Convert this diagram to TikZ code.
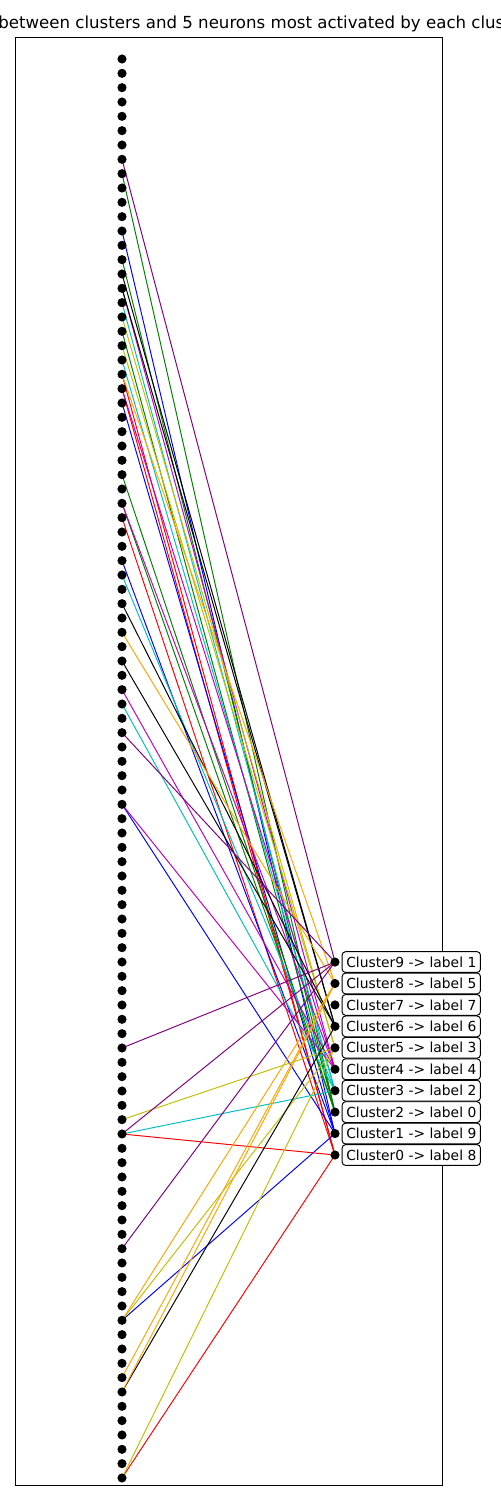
\documentclass[tikz,border=0pt]{standalone}
\usepackage{fontspec}
\setmainfont{DejaVu Sans}
\usepackage{xcolor}
\usetikzlibrary{positioning}
\definecolor{mplblue}{rgb}{0,0,1}
\definecolor{mplgreen}{rgb}{0,0.5,0}
\definecolor{mplred}{rgb}{1,0,0}
\definecolor{mplcyan}{rgb}{0,0.75,0.75}
\definecolor{mplmagenta}{rgb}{0.75,0,0.75}
\definecolor{mplolive}{rgb}{0.75,0.75,0}
\definecolor{mplorange}{rgb}{1,0.647,0}
\definecolor{mplpurple}{rgb}{0.5,0,0.5}

\begin{document}
\begin{tikzpicture}[x=0.01in, y=-0.01in,
    neuron/.style={circle, fill=black, inner sep=0pt, minimum size=6.6pt},
    link/.style={line width=0.7pt},
    tag/.style={draw, line width=0.7pt, rounded corners=2.5pt, fill=white, inner xsep=3pt, inner ysep=0pt, minimum height=15pt, font=\fontsize{10}{12}\selectfont}]
    \useasboundingbox (0,0) rectangle (500,1500);

    \node[anchor=base west, inner sep=0pt, font=\fontsize{12}{14}\selectfont] (title) at (-2,28) {between clusters and 5 neurons most activated by each clus};
    \draw[line width=0.6pt] (15,37) rectangle (442,1485);

    % neurons on the left, clusters on the right
    \foreach \i in {0,...,99} {\coordinate (n\i) at (122,59+14.333*\i);}
    \foreach \k in {0,...,9} {\coordinate (c\k) at (335,1155-21.44*\k);}

    % five most activated neurons of each cluster
    \foreach \k/\col/\list in {0/mplred/{22,23,32,75,99}, 1/mplblue/{12,24,35,52,88}, 2/mplgreen/{8,14,19,29,31},
        3/mplcyan/{17,21,36,45,75}, 4/mplmagenta/{16,23,31,44,52}, 5/mplolive/{18,20,74,88,99},
        6/black/{15,16,38,42,93}, 8/mplorange/{22,40,88,92,93}, 9/mplpurple/{7,47,69,75,83}} {
        \foreach \i in \list {\draw[link, \col] (n\i) -- (c\k);}
    }

    \foreach \i in {0,...,99} {\node[neuron] (dot\i) at (n\i) {};}
    \foreach \k/\lab in {0/8, 1/9, 2/0, 3/2, 4/4, 5/3, 6/6, 7/7, 8/5, 9/1} {
        \node[neuron] (cdot\k) at (c\k) {};
        \node[tag, right=4.8pt of c\k] (tag\k) {Cluster\k\ -> label \lab};
    }
\end{tikzpicture}
\end{document}
